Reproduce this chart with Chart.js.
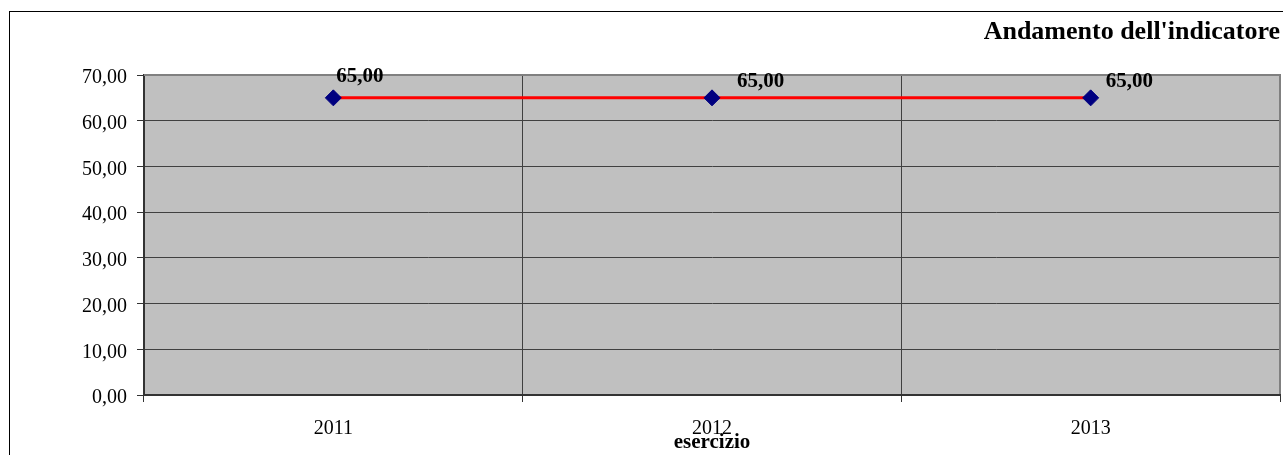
<!DOCTYPE html>
<html lang="it">
<head>
<meta charset="utf-8">
<title>Andamento dell'indicatore</title>
<script src="https://cdn.jsdelivr.net/npm/chart.js@4/dist/chart.umd.min.js"></script>
<style>
  html, body { margin: 0; padding: 0; background: #ffffff; }
  canvas { display: block; }
</style>
</head>
<body>
<canvas id="chart" width="1283" height="455"></canvas>
<script>
// Anni di esercizio e valori dell'indicatore
const categories = ['2011', '2012', '2013'];
const indicatorValues = [65, 65, 65];
const yTickValues = [0, 10, 20, 30, 40, 50, 60, 70];

const chartTitle = "Andamento dell'indicatore";
const xAxisTitle = 'esercizio';

const SERIF = "'Liberation Serif', 'Times New Roman', Times, serif";

function formatIt(v) {
  return Number(v).toFixed(2).replace('.', ',');
}

// White page, outer frame and grey plot background
const frameAndBackground = {
  id: 'frameAndBackground',
  beforeDraw(chart) {
    const { ctx, chartArea: a, width, height } = chart;
    ctx.save();
    ctx.fillStyle = '#ffffff';
    ctx.fillRect(0, 0, width, height);
    ctx.strokeStyle = '#000000';
    ctx.lineWidth = 1;
    ctx.strokeRect(9.5, 11.5, width + 10, height + 10);
    ctx.fillStyle = '#C0C0C0';
    ctx.fillRect(a.left, a.top, a.right - a.left, a.bottom - a.top);
    ctx.restore();
  },
  beforeDatasetsDraw(chart) {
    const { ctx, chartArea: a } = chart;
    ctx.save();
    ctx.strokeStyle = '#808080';
    ctx.lineWidth = 2;
    ctx.beginPath();
    ctx.moveTo(a.left, a.top);
    ctx.lineTo(a.right, a.top);
    ctx.lineTo(a.right, a.bottom - 1);
    ctx.stroke();
    ctx.restore();
  }
};

// Bold value labels next to each marker
const valueLabels = {
  id: 'valueLabels',
  afterDatasetsDraw(chart, args, opts) {
    const { ctx } = chart;
    const meta = chart.getDatasetMeta(0);
    const values = chart.data.datasets[0].data;
    ctx.save();
    ctx.font = 'bold 21px ' + SERIF;
    ctx.fillStyle = '#000000';
    ctx.textAlign = 'left';
    ctx.textBaseline = 'alphabetic';
    meta.data.forEach((pt, i) => {
      const off = opts.offsets[i] || [0, 0];
      ctx.fillText(formatIt(values[i]), pt.x + off[0], pt.y + off[1]);
    });
    ctx.restore();
  }
};

Chart.defaults.font.family = SERIF;
Chart.defaults.color = '#000000';

new Chart(document.getElementById('chart'), {
  type: 'line',
  data: {
    labels: categories,
    datasets: [{
      data: indicatorValues,
      borderColor: '#FF0000',
      borderWidth: 3,
      tension: 0,
      fill: false,
      pointStyle: 'rectRot',
      pointRadius: 8,
      pointHoverRadius: 8,
      pointBackgroundColor: '#000080',
      pointBorderColor: '#000080',
      pointBorderWidth: 1
    }]
  },
  options: {
    responsive: false,
    devicePixelRatio: 1,
    animation: false,
    events: [],
    layout: { autoPadding: false, padding: { left: 0, right: 3, top: 0, bottom: 0 } },
    plugins: {
      legend: { display: false },
      tooltip: { enabled: false },
      title: {
        display: true,
        text: chartTitle,
        align: 'end',
        color: '#000000',
        font: { family: SERIF, size: 26, weight: 'bold', lineHeight: 1.2 },
        padding: { top: 17, bottom: 26.8 }
      },
      valueLabels: {
        offsets: [[3, -16], [25, -11], [15, -11]]
      }
    },
    scales: {
      x: {
        type: 'category',
        offset: true,
        grid: {
          offset: true,
          color: '#404040',
          lineWidth: 1,
          tickLength: 7,
          tickColor: '#333333'
        },
        border: { display: true, color: '#333333', width: 2 },
        ticks: {
          padding: 15,
          maxRotation: 0,
          font: { family: SERIF, size: 20 },
          color: '#000000'
        },
        title: {
          display: true,
          text: xAxisTitle,
          color: '#000000',
          font: { family: SERIF, size: 21, weight: 'bold', lineHeight: 1.2 },
          padding: { top: 0, bottom: 0 }
        },
        afterFit(scale) {
          scale.height = 60;
          scale.paddingLeft = 0;
          scale.paddingRight = 0;
        }
      },
      y: {
        min: yTickValues[0],
        max: yTickValues[yTickValues.length - 1],
        afterBuildTicks(scale) {
          scale.ticks = yTickValues.map(v => ({ value: v }));
        },
        grid: {
          color: '#404040',
          lineWidth: 1,
          tickLength: 7,
          tickColor: '#333333'
        },
        border: { display: true, color: '#333333', width: 2 },
        ticks: {
          padding: 10,
          labelOffset: 3,
          font: { family: SERIF, size: 20 },
          color: '#000000',
          callback: v => formatIt(v)
        },
        afterFit(scale) {
          scale.width = 144;
          scale.paddingTop = 0;
          scale.paddingBottom = 0;
        }
      }
    }
  },
  plugins: [frameAndBackground, valueLabels]
});
</script>
</body>
</html>
